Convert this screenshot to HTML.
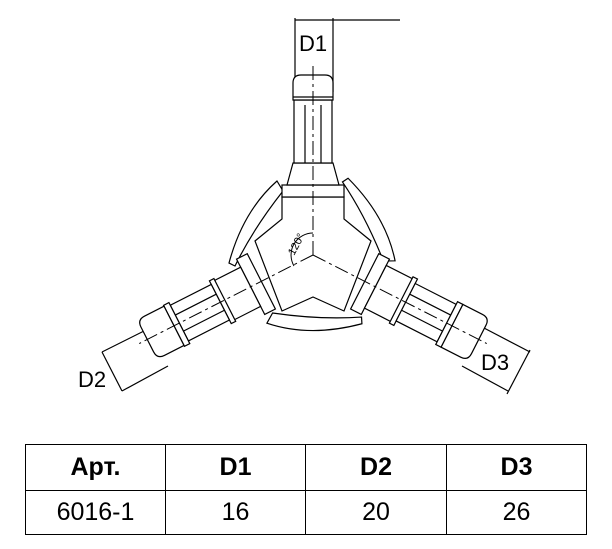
<!DOCTYPE html>
<html><head><style>
html,body{margin:0;padding:0;background:#fff;}
body{width:612px;height:549px;position:relative;overflow:hidden;font-family:"Liberation Sans",sans-serif;}
table{position:absolute;left:25px;top:444px;border-collapse:collapse;font-family:"Liberation Sans","DejaVu Sans",sans-serif;}
td{border:1.5px solid #000;text-align:center;font-size:25px;padding:0;}
tr.h td{font-weight:bold;height:45px;}
tr.b td{height:43px;}
</style></head><body>
<svg width="612" height="440" style="position:absolute;left:0;top:0" xmlns="http://www.w3.org/2000/svg">
<g fill="none" stroke="#000" stroke-width="1.2">
<!-- D1 dims -->
<line x1="295" y1="18" x2="295" y2="92"/>
<line x1="333" y1="18" x2="333" y2="92"/>
<line x1="295" y1="20" x2="400" y2="20"/>
<!-- D2 dims -->
<line x1="102" y1="352" x2="150" y2="328"/>
<line x1="122" y1="391" x2="168" y2="366"/>
<line x1="102" y1="352" x2="122" y2="391"/>
<!-- D3 dims -->
<line x1="484" y1="328" x2="530" y2="352"/>
<line x1="462" y1="366" x2="508" y2="391"/>
<line x1="530" y1="350" x2="507" y2="394"/>
<g transform="translate(313,255)">
 <!-- body -->
 <polygon fill="#fff" points="-31,-58 31,-58 31,-36 58,-14 31,56 0,42 -31,56 -58,-14 -31,-36"/>
 <!-- wings -->
 <g id="w"><path fill="#fff" d="M-36,-74 Q-70,-44 -84,8 L-78,11 Q-60,-26 -30,-64 Z"/></g>
 <use href="#w" transform="rotate(120)"/>
 <use href="#w" transform="rotate(240)"/>
 <!-- up arm -->
 <g>
  <rect x="-31" y="-70" width="62" height="12" fill="#fff"/>
  <polygon fill="#fff" points="-26,-70 -20,-92 20,-92 26,-70"/>
  <rect x="-19" y="-155" width="38" height="63" fill="#fff"/>
  <line x1="-8" y1="-150" x2="-8" y2="-92"/><line x1="8" y1="-150" x2="8" y2="-92"/>
  <path fill="#fff" d="M-20,-155 L-20,-172 Q-20,-180 -12,-180 L12,-180 Q20,-180 20,-172 L20,-155 Z"/>
  <line x1="-20" y1="-158" x2="20" y2="-158"/>
 </g>
 <!-- lower right arm -->
 <g transform="rotate(117)">
  <rect x="-31" y="-70" width="62" height="12" fill="#fff"/>
  <rect x="-24" y="-100" width="48" height="30" fill="#fff"/>
  <rect x="-26" y="-104" width="52" height="5" fill="#fff"/>
  <rect x="-21" y="-150" width="42" height="46" fill="#fff"/>
  <line x1="-9" y1="-150" x2="-9" y2="-104"/><line x1="9" y1="-150" x2="9" y2="-104"/>
  <rect x="-24" y="-156" width="48" height="6" fill="#fff"/>
  <path fill="#fff" d="M-24,-156 L-24,-178 Q-24,-186 -16,-186 L16,-186 Q24,-186 24,-178 L24,-156 Z"/>
 </g>
 <!-- lower left arm -->
 <g transform="rotate(243)">
  <rect x="-31" y="-70" width="62" height="12" fill="#fff"/>
  <rect x="-22" y="-100" width="44" height="30" fill="#fff"/>
  <rect x="-24" y="-104" width="48" height="5" fill="#fff"/>
  <rect x="-20" y="-150" width="40" height="46" fill="#fff"/>
  <line x1="-9" y1="-150" x2="-9" y2="-104"/><line x1="9" y1="-150" x2="9" y2="-104"/>
  <rect x="-23" y="-156" width="46" height="6" fill="#fff"/>
  <path fill="#fff" d="M-22,-156 L-22,-178 Q-22,-186 -14,-186 L14,-186 Q22,-186 22,-178 L22,-156 Z"/>
 </g>
 <!-- centre lines -->
 <g stroke-dasharray="14,4,3,4" stroke-width="1">
  <line x1="0" y1="0" x2="0" y2="-190"/>
  <line x1="0" y1="0" x2="0" y2="-195" transform="rotate(117)"/>
  <line x1="0" y1="0" x2="0" y2="-195" transform="rotate(243)"/>
 </g>
 <path d="M0,-22 A22,22 0 0 0 -19,11" stroke-width="1"/>
</g>
</g>
<g font-family="Liberation Sans,sans-serif" font-size="22" fill="#000">
<text x="313" y="51" text-anchor="middle">D1</text>
<text x="78" y="387">D2</text>
<text x="481" y="370">D3</text>
<text x="0" y="0" font-size="11" transform="translate(294,256) rotate(-62)">120°</text>
</g>
</svg>
<table>
<tr class="h"><td style="width:139px">Арт.</td><td style="width:139px">D1</td><td style="width:140px">D2</td><td style="width:139px">D3</td></tr>
<tr class="b"><td>6016-1</td><td>16</td><td>20</td><td>26</td></tr>
</table>
</body></html>
